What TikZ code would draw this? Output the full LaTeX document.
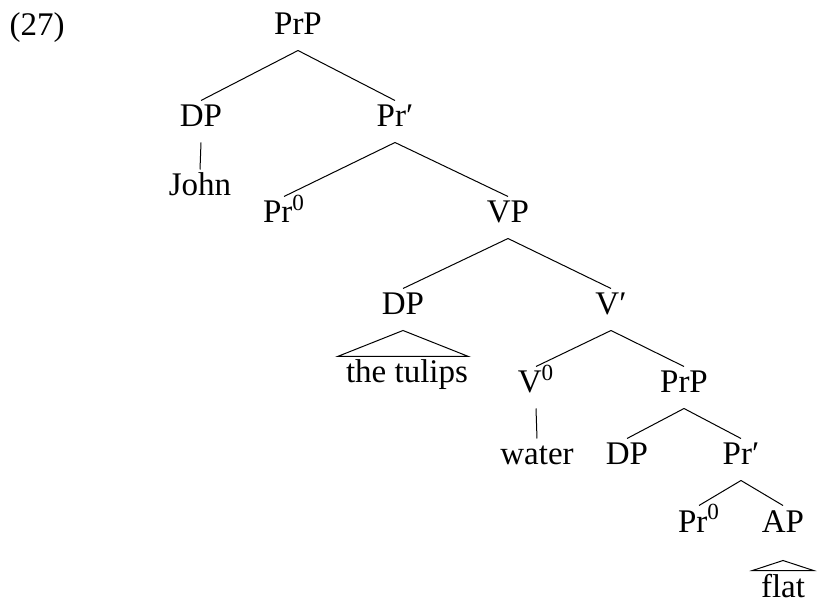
\documentclass[tikz,border=0pt]{standalone}
\usepackage{fontspec}
\setmainfont{Liberation Serif}
\begin{document}
\begin{tikzpicture}[x=0.5pt,y=-0.5pt,line width=0.5pt,
    cat/.style={inner sep=0pt,text height=13pt,text depth=7.5pt,anchor=base,font=\fontsize{16.5}{19}\selectfont},
    leaf/.style={cat,text depth=0pt}]
    \useasboundingbox(0,0)rectangle(820,604);
    \node[cat](ex)at(37,36){(27)};
    \node[cat](prpa)at(298,35){PrP};
    \node[cat](dpa)at(201,127){DP};
    \node[cat](prbara)at(395,127){Pr′};
    \node[leaf](john)at(200,196){John};
    \node[cat](przeroa)at(284,223){Pr\textsuperscript{0}};
    \node[cat](vp)at(508,223){VP};
    \node[cat](dpb)at(403,315){DP};
    \node[cat](vbar)at(611,315){V′};
    \node[leaf](tulips)at(407,383){the tulips};
    \node[cat](vzero)at(536,393){V\textsuperscript{0}};
    \node[cat](prpb)at(684,393){PrP};
    \node[leaf](water)at(537,465){water};
    \node[cat](dpc)at(627,465){DP};
    \node[cat](prbarb)at(741,465){Pr′};
    \node[cat](przerob)at(699,532){Pr\textsuperscript{0}};
    \node[cat](ap)at(783,532){AP};
    \node[leaf](flat)at(783,597){flat};
    \draw(prpa.south)--(dpa.north) (prpa.south)--(prbara.north);
    \draw(dpa.south)--(john.north);
    \draw(prbara.south)--(przeroa.north) (prbara.south)--(vp.north);
    \draw(vp.south)--(dpb.north) (vp.south)--(vbar.north);
    \draw(dpb.south)--([xshift=-4pt]tulips.north west)--(tulips.north east)--cycle;
    \draw(vbar.south)--(vzero.north) (vbar.south)--(prpb.north);
    \draw(vzero.south)--(water.north);
    \draw(prpb.south)--(dpc.north) (prpb.south)--(prbarb.north);
    \draw(prbarb.south)--(przerob.north) (prbarb.south)--(ap.north);
    \draw([yshift=-6.5pt]ap.south)--([xshift=-4pt]flat.north west)--([xshift=4pt]flat.north east)--cycle;
\end{tikzpicture}
\end{document}
